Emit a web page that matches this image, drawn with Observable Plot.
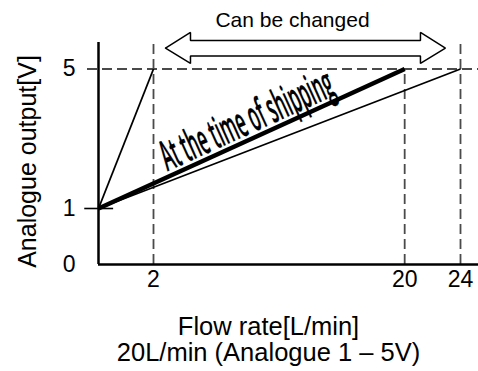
<!DOCTYPE html>
<html><head><meta charset="utf-8">
<script src="https://cdn.jsdelivr.net/npm/d3@7"></script>
<script src="https://cdn.jsdelivr.net/npm/@observablehq/plot@0.6"></script>
<style>
body{margin:0;background:#fff}
svg{display:block}
</style>
</head><body><div id="chart"></div>
<script>
// ---- data ----
const flowTicks = [2, 20, 24];            // x tick labels (L/min)
const voltTicks = [0, 1, 5];              // y tick labels (V)
const fullScaleFlow = [2, 20, 24];        // flow at 5 V for each setting
const shippingFlow = 20;                  // factory setting
const outputMin = 1;                      // V at 0 L/min
const outputMax = 5;                      // V at full scale
const axisTopVolt = 5.76;
const axisEndFlow = 25.3;
const tickOneFlow = [-0.5, 0.55];         // extent of the 1 V tick
const refLineFlow = [-0.4, 25.3];         // extent of the dashed 5 V line
const arrowFlow = [2.86, 4.65, 4.65, 21.13, 21.13, 22.92, 21.13, 21.13, 4.65, 4.65, 2.86];
const arrowVolt = [5.60, 6.05, 5.82, 5.82, 6.05, 5.60, 5.16, 5.37, 5.37, 5.16, 5.60];
const arrowLabel = "Can be changed";
const shippingLabel = "At the time of shipping";
const shippingLabelPos = [8.68, 3.52];
const yTitle = "Analogue output[V]";
const xTitle = "Flow rate[L/min]\n20L/min (Analogue 1 – 5V)";

const arrowPts = arrowFlow.map((x, i) => ({x, y: arrowVolt[i]}));
const lines = fullScaleFlow.map(f => ({f, shipping: f === shippingFlow}));
const font = "Liberation Sans, Arial, sans-serif";
const dash = "#4a4a4a";

const chart = Plot.plot({
  width: 478,
  height: 371,
  marginLeft: 98,
  marginRight: 0,
  marginTop: 42,
  marginBottom: 107,
  style: {fontFamily: font, background: "white", overflow: "visible"},
  x: {type: "linear", domain: [0, 2, 24], range: [98, 153, 460], clamp: false},
  y: {type: "linear", domain: [0, 1, 5], range: [264, 208, 68.5], clamp: false},
  marks: [
    // dashed guides
    Plot.ruleX([2, 24], {x: d => d, y1: 0, y2: axisTopVolt, stroke: dash, strokeWidth: 1.8, strokeDasharray: "10,5"}),
    Plot.ruleX([shippingFlow], {x: d => d, y1: 0, y2: outputMax, stroke: dash, strokeWidth: 1.8, strokeDasharray: "10,5"}),
    Plot.ruleY([outputMax], {y: d => d, x1: refLineFlow[0], x2: refLineFlow[1], stroke: dash, strokeWidth: 1.8, strokeDasharray: "10,5"}),
    // axes lines
    Plot.ruleX([0], {x: d => d, y1: 0, y2: axisTopVolt, stroke: "black", strokeWidth: 2.5}),
    Plot.ruleY([0], {y: d => d, x1: 0, x2: axisEndFlow, stroke: "black", strokeWidth: 2.5}),
    Plot.ruleY([outputMin], {y: d => d, x1: tickOneFlow[0], x2: tickOneFlow[1], stroke: "black", strokeWidth: 1.6}),
    // output lines
    Plot.link(lines, {x1: 0, y1: outputMin, x2: d => d.f, y2: outputMax, stroke: "black",
      strokeWidth: d => d.shipping ? 4.5 : 1.8, strokeLinecap: "butt"}),
    // arrow
    Plot.line(arrowPts, {x: "x", y: "y", stroke: "black", fill: "white", strokeWidth: 1.5, strokeLinejoin: "miter", curve: "linear"}),
    Plot.text([arrowLabel], {frameAnchor: "top-left", text: d => d, dx: 194, dy: -22, fontSize: 21, fill: "black", textAnchor: "middle", lineAnchor: "middle"}),
    // shipping label
    Plot.text([shippingLabel], {x: shippingLabelPos[0], y: shippingLabelPos[1], text: d => d, rotate: -24.4,
      fontSize: 42, fontWeight: 600, fontFamily: "Open Sans, sans-serif", fill: "black",
      stroke: "black", strokeWidth: 0.3, textAnchor: "middle", lineAnchor: "middle"}),
    // axes (labels only)
    Plot.axisX({ticks: flowTicks, tickSize: 0, tickPadding: 6, fontSize: 23, label: null, tickFormat: d => String(d)}),
    Plot.axisY({ticks: voltTicks, tickSize: 0, tickPadding: 23, fontSize: 23, label: null, tickFormat: d => String(d)}),
    // titles
    Plot.text([yTitle], {frameAnchor: "left", text: d => d, rotate: -90, dx: -71, dy: 8, fontSize: 25, fill: "black", textAnchor: "middle"}),
    Plot.text([xTitle], {frameAnchor: "bottom-left", text: d => d, dx: 170, dy: 75.5, fontSize: 25.5, lineHeight: 1.0, lineAnchor: "middle", fill: "black", textAnchor: "middle"})
  ]
});
document.getElementById("chart").append(chart);
chart.querySelectorAll("text").forEach(t => {
  if (t.textContent === shippingLabel) {
    t.setAttribute("textLength", 186);
    t.setAttribute("lengthAdjust", "spacingAndGlyphs");
  }
});
</script>
</body></html>
